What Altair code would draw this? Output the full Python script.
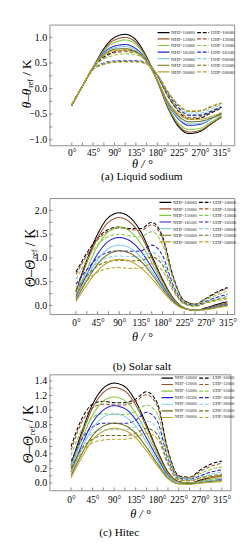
import altair as alt
import pandas as pd

FONT = "Liberation Serif"

angles = [0, 22.5, 45, 67.5, 90, 112.5, 135, 157.5, 180, 202.5, 225, 247.5, 270, 292.5, 315]
levels = ["10000", "12000", "15000", "16500", "20000", "25000", "30000"]
level_colors = ["#000000", "#A0522D", "#7FCC3F", "#2222D8", "#87CEEB", "#6B6B10", "#BFA22A"]

x_labels = [0, 45, 90, 135, 180, 225, 270, 315]
x_minor = [0, 22.5, 45, 67.5, 90, 112.5, 135, 157.5, 180, 202.5, 225, 247.5, 270, 292.5, 315]

# ---------------- (a) Liquid sodium ----------------
a_nhf = [
    [-0.33, 0.05, 0.42, 0.78, 1.00, 1.06, 0.95, 0.62, 0.15, -0.38, -0.75, -0.88, -0.84, -0.70, -0.55],
    [-0.33, 0.05, 0.42, 0.75, 0.95, 1.00, 0.90, 0.60, 0.15, -0.36, -0.72, -0.85, -0.82, -0.69, -0.56],
    [-0.32, 0.05, 0.42, 0.73, 0.90, 0.95, 0.86, 0.58, 0.15, -0.34, -0.68, -0.80, -0.78, -0.66, -0.53],
    [-0.32, 0.05, 0.42, 0.70, 0.83, 0.86, 0.78, 0.55, 0.16, -0.30, -0.60, -0.72, -0.70, -0.60, -0.48],
    [-0.32, 0.05, 0.42, 0.68, 0.80, 0.82, 0.75, 0.54, 0.16, -0.29, -0.58, -0.69, -0.68, -0.60, -0.50],
    [-0.32, 0.05, 0.42, 0.66, 0.77, 0.78, 0.72, 0.53, 0.16, -0.27, -0.54, -0.65, -0.64, -0.58, -0.50],
    [-0.32, 0.05, 0.42, 0.65, 0.74, 0.75, 0.70, 0.52, 0.17, -0.25, -0.50, -0.60, -0.60, -0.55, -0.47],
]
a_uhf = [
    [-0.33, 0.05, 0.40, 0.62, 0.72, 0.75, 0.72, 0.56, 0.25, -0.15, -0.45, -0.60, -0.58, -0.48, -0.38],
    [-0.33, 0.05, 0.40, 0.60, 0.70, 0.72, 0.70, 0.55, 0.25, -0.14, -0.43, -0.57, -0.55, -0.46, -0.37],
    [-0.32, 0.05, 0.40, 0.58, 0.65, 0.68, 0.66, 0.54, 0.26, -0.12, -0.40, -0.53, -0.52, -0.44, -0.35],
    [-0.32, 0.05, 0.38, 0.50, 0.54, 0.55, 0.55, 0.50, 0.26, -0.10, -0.38, -0.52, -0.52, -0.45, -0.36],
    [-0.32, 0.05, 0.38, 0.49, 0.53, 0.54, 0.54, 0.49, 0.27, -0.08, -0.35, -0.48, -0.48, -0.40, -0.32],
    [-0.31, 0.05, 0.37, 0.48, 0.52, 0.53, 0.53, 0.48, 0.27, -0.07, -0.33, -0.45, -0.44, -0.36, -0.29],
    [-0.31, 0.05, 0.37, 0.47, 0.51, 0.52, 0.52, 0.48, 0.28, -0.06, -0.32, -0.44, -0.43, -0.35, -0.28],
]
a_ylabels = [-1.0, -0.5, 0.0, 0.5, 1.0]
a_yminor = [-1.0, -0.75, -0.5, -0.25, 0.0, 0.25, 0.5, 0.75, 1.0]

# ---------------- (b) Solar salt ----------------
b_nhf = [
    [0.30, 0.95, 1.50, 1.85, 1.95, 1.85, 1.55, 1.05, 0.55, 0.15, -0.05, -0.10, -0.05, 0.02, 0.08],
    [0.28, 0.90, 1.42, 1.75, 1.85, 1.75, 1.47, 1.00, 0.52, 0.14, -0.05, -0.10, -0.06, 0.00, 0.05],
    [0.22, 0.75, 1.25, 1.55, 1.65, 1.56, 1.30, 0.90, 0.47, 0.12, -0.05, -0.10, -0.07, -0.02, 0.03],
    [0.18, 0.65, 1.08, 1.35, 1.43, 1.36, 1.14, 0.80, 0.42, 0.10, -0.06, -0.10, -0.07, -0.02, 0.02],
    [0.15, 0.58, 0.96, 1.20, 1.27, 1.21, 1.02, 0.72, 0.38, 0.09, -0.06, -0.10, -0.08, -0.03, 0.01],
    [0.12, 0.52, 0.87, 1.08, 1.15, 1.10, 0.93, 0.66, 0.35, 0.08, -0.06, -0.10, -0.08, -0.04, 0.00],
    [0.08, 0.43, 0.73, 0.91, 0.97, 0.93, 0.79, 0.57, 0.30, 0.06, -0.07, -0.10, -0.09, -0.05, -0.01],
]
b_uhf = [
    [0.70, 1.10, 1.42, 1.60, 1.65, 1.62, 1.62, 1.75, 1.45, 0.60, 0.10, 0.03, 0.15, 0.28, 0.38],
    [0.65, 1.05, 1.38, 1.57, 1.63, 1.60, 1.58, 1.70, 1.40, 0.58, 0.10, 0.03, 0.14, 0.26, 0.36],
    [0.55, 0.95, 1.28, 1.45, 1.50, 1.46, 1.45, 1.55, 1.28, 0.52, 0.08, 0.02, 0.12, 0.22, 0.30],
    [0.45, 0.75, 1.00, 1.12, 1.15, 1.14, 1.15, 1.27, 1.05, 0.42, 0.06, 0.01, 0.09, 0.17, 0.24],
    [0.38, 0.68, 0.90, 1.01, 1.04, 1.03, 1.04, 1.12, 0.93, 0.38, 0.05, 0.00, 0.08, 0.14, 0.20],
    [0.32, 0.62, 0.83, 0.93, 0.95, 0.94, 0.95, 1.02, 0.85, 0.35, 0.04, -0.01, 0.06, 0.12, 0.17],
    [0.25, 0.52, 0.70, 0.78, 0.80, 0.78, 0.79, 0.88, 0.73, 0.30, 0.03, -0.02, 0.05, 0.10, 0.14],
]
b_ylabels = [0.0, 0.5, 1.0, 1.5, 2.0]
b_yminor = [0.0, 0.25, 0.5, 0.75, 1.0, 1.25, 1.5, 1.75, 2.0]

# ---------------- (c) Hitec ----------------
c_nhf = [
    [0.25, 0.70, 1.08, 1.30, 1.37, 1.32, 1.12, 0.80, 0.45, 0.15, 0.02, 0.00, 0.04, 0.08, 0.10],
    [0.23, 0.66, 1.03, 1.24, 1.31, 1.26, 1.07, 0.77, 0.43, 0.14, 0.02, 0.00, 0.03, 0.07, 0.09],
    [0.20, 0.60, 0.93, 1.12, 1.18, 1.13, 0.96, 0.69, 0.39, 0.12, 0.01, 0.00, 0.02, 0.05, 0.07],
    [0.15, 0.52, 0.83, 1.00, 1.06, 1.02, 0.87, 0.62, 0.35, 0.10, 0.00, -0.01, 0.01, 0.03, 0.05],
    [0.13, 0.47, 0.75, 0.90, 0.95, 0.91, 0.78, 0.56, 0.31, 0.09, 0.00, -0.01, 0.01, 0.03, 0.04],
    [0.10, 0.40, 0.65, 0.78, 0.82, 0.79, 0.68, 0.49, 0.27, 0.07, -0.01, -0.01, 0.00, 0.02, 0.03],
    [0.07, 0.35, 0.59, 0.71, 0.75, 0.72, 0.62, 0.44, 0.24, 0.06, -0.01, -0.02, 0.00, 0.01, 0.02],
]
c_uhf = [
    [0.50, 0.88, 1.08, 1.12, 1.10, 1.10, 1.15, 1.25, 1.10, 0.45, 0.10, 0.08, 0.18, 0.26, 0.30],
    [0.45, 0.83, 1.03, 1.08, 1.07, 1.07, 1.12, 1.21, 1.06, 0.43, 0.09, 0.07, 0.16, 0.23, 0.27],
    [0.38, 0.73, 0.90, 0.95, 0.94, 0.94, 0.98, 1.07, 0.95, 0.38, 0.08, 0.06, 0.13, 0.19, 0.22],
    [0.30, 0.60, 0.77, 0.82, 0.82, 0.82, 0.86, 0.97, 0.85, 0.33, 0.07, 0.05, 0.10, 0.15, 0.18],
    [0.25, 0.53, 0.68, 0.73, 0.73, 0.73, 0.77, 0.85, 0.75, 0.30, 0.06, 0.04, 0.08, 0.12, 0.15],
    [0.20, 0.47, 0.60, 0.65, 0.65, 0.65, 0.68, 0.75, 0.67, 0.27, 0.05, 0.03, 0.07, 0.10, 0.12],
    [0.15, 0.42, 0.55, 0.59, 0.60, 0.60, 0.63, 0.68, 0.61, 0.25, 0.04, 0.03, 0.06, 0.08, 0.10],
]
c_ylabels = [0.0, 0.2, 0.4, 0.6, 0.8, 1.0, 1.2, 1.4]
c_yminor = [0.0, 0.1, 0.2, 0.3, 0.4, 0.5, 0.6, 0.7, 0.8, 0.9, 1.0, 1.1, 1.2, 1.3, 1.4]

# legend fills column by column: NHF column first, then UHF column
series_order = [f"{k}-{lv}" for k in ("NHF", "UHF") for lv in levels]
color_range = [c for _ in range(2) for c in level_colors]
dash_range = [d for d in ([1, 0], [4, 2]) for _ in levels]


def build_df(nhf, uhf):
    rows = []
    for i, lv in enumerate(levels):
        for kind, vals in (("NHF", nhf[i]), ("UHF", uhf[i])):
            for ang, v in zip(angles, vals):
                rows.append({"angle": ang, "value": v, "series": f"{kind}-{lv}"})
    return pd.DataFrame(rows)


def panel(nhf, uhf, ylabels, yminor, p):
    W, H = p["w"], p["h"]
    xsc = alt.Scale(domain=p["xdom"], nice=False, zero=False)
    ysc = alt.Scale(domain=p["ydom"], nice=False, zero=False)
    xax = alt.Axis(
        values=x_labels, labelExpr="datum.value + '°'", title="θ / °",
        labelOverlap=False, labelFlush=False, labelBound=False, labelFontSize=10,
        titleFontStyle="italic", titleFontWeight="normal", titleFontSize=13,
        titlePadding=p["xtp"], labelPadding=p["xlp"])
    yax = alt.Axis(
        values=ylabels, format=".1f", title=None, labelPadding=3, labelFontSize=10.5,
        labelOverlap=False, labelFlush=False, labelBound=False)
    leg = alt.Legend(
        title=None, orient="none", legendX=p["lx"], legendY=p["ly"], columns=2,
        symbolType="stroke", symbolSize=p["ss"], symbolStrokeWidth=1.2,
        labelFont=FONT, labelFontSize=p["lfs"], clipHeight=p["ch"],
        rowPadding=0, columnPadding=p["cp"], labelOffset=1, padding=0,
        symbolOffset=0, labelLimit=0, labelColor="#222",
    )
    lines = alt.Chart(build_df(nhf, uhf)).mark_line(
        interpolate="monotone", strokeWidth=1.1
    ).encode(
        x=alt.X("angle:Q", scale=xsc, axis=xax),
        y=alt.Y("value:Q", scale=ysc, axis=yax),
        color=alt.Color("series:N", scale=alt.Scale(domain=series_order, range=color_range), legend=leg),
        strokeDash=alt.StrokeDash("series:N", scale=alt.Scale(domain=series_order, range=dash_range), legend=leg),
    )
    xt = alt.Chart(pd.DataFrame({"angle": x_minor})).mark_rule(color="#666", strokeWidth=0.8).encode(
        x=alt.X("angle:Q", scale=xsc, axis=xax), y=alt.value(H), y2=alt.value(H - 3))
    yt = alt.Chart(pd.DataFrame({"value": yminor})).mark_rule(color="#666", strokeWidth=0.8).encode(
        y=alt.Y("value:Q", scale=ysc, axis=yax), x=alt.value(0), x2=alt.value(3))

    dummy = pd.DataFrame({"k": [0]})
    sym = p["sym"]
    anchor = H / 2 + p["tshift"]
    t1 = alt.Chart(dummy).mark_text(
        text=f"{sym}–{sym}", angle=270, align="right", baseline="middle",
        font=FONT, fontSize=p["tfs"], fontStyle="italic", color="black"
    ).encode(x=alt.value(p["tx"]), y=alt.value(anchor))
    t2 = alt.Chart(dummy).mark_text(
        text="ref", angle=270, align="left", baseline="middle", dy=4, dx=1,
        font=FONT, fontSize=p["tfs"] * 0.6, color="black"
    ).encode(x=alt.value(p["tx"]), y=alt.value(anchor))
    t3 = alt.Chart(dummy).mark_text(
        text="/ K", angle=270, align="left", baseline="middle", dx=p["tfs"] * 0.6 * 1.15 + 4,
        font=FONT, fontSize=p["tfs"], color="black"
    ).encode(x=alt.value(p["tx"]), y=alt.value(anchor))
    spacer = alt.Chart(dummy).mark_text(text=".", opacity=0, fontSize=6).encode(
        x=alt.value(p["spacer"]), y=alt.value(H / 2))

    return alt.layer(lines, xt, yt, t1, t2, t3, spacer).properties(
        width=W, height=H,
        title=alt.TitleParams(
            text=p["cap"], orient="bottom", font=FONT, fontSize=12, fontWeight="normal",
            color="black", offset=p["capoff"], lineHeight=p["caplh"], dx=p["capdx"]),
    )


pa = panel(a_nhf, a_uhf, a_ylabels, a_yminor, dict(
    w=196, h=128, xdom=[-47, 342], ydom=[-1.11, 1.25], sym="θ", tfs=14, tx=-24, tshift=4,
    spacer=-34, lx=114, ly=5, lfs=5.2, ch=6.2, ss=160, cp=1, xtp=1, xlp=3,
    cap=["(a) Liquid sodium", " "], capoff=1, caplh=14, capdx=0))
pb = panel(b_nhf, b_uhf, b_ylabels, b_yminor, dict(
    w=196, h=123, xdom=[-55, 329], ydom=[-0.18, 2.26], sym="Θ", tfs=15, tx=-20, tshift=4,
    spacer=-32, lx=116, ly=1, lfs=5.2, ch=6.8, ss=160, cp=1, xtp=4, xlp=4,
    cap="(b) Solar salt", capoff=19, caplh=14, capdx=0))
pc = panel(c_nhf, c_uhf, c_ylabels, c_yminor, dict(
    w=192, h=123, xdom=[-45, 333], ydom=[-0.1, 1.49], sym="Θ", tfs=15, tx=-22, tshift=4,
    spacer=-42, lx=118, ly=1, lfs=4.8, ch=5.5, ss=150, cp=1, xtp=4, xlp=5,
    cap="(c) Hitec", capoff=8, caplh=14, capdx=-22))

chart = alt.vconcat(pa, pb, pc, spacing=1).resolve_scale(
    x="independent", y="independent", color="independent", strokeDash="independent"
).properties(padding=0).configure_view(
    stroke="#8a8a8a", strokeWidth=1
).configure_axis(
    domain=False, grid=False, ticks=False, labelFont=FONT, labelFontSize=11,
    labelColor="black", titleFont=FONT, titleColor="black"
)

chart.save("out.html", embed_options={"renderer": "svg", "actions": False})
